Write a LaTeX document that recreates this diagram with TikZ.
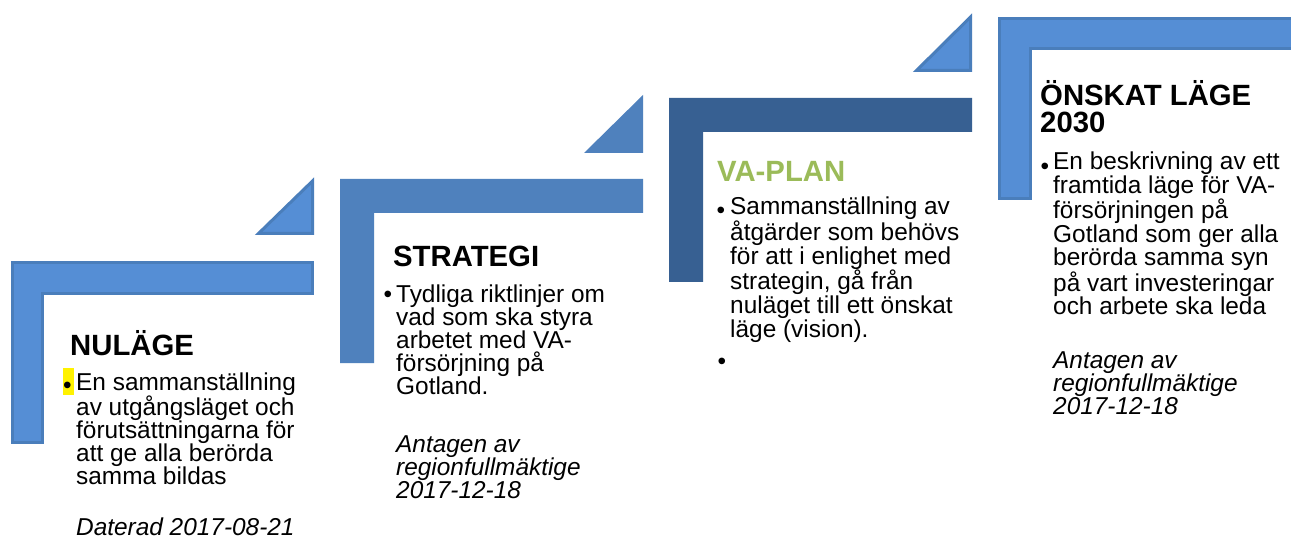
\documentclass[tikz,border=0pt]{standalone}
\usepackage{fontspec}
\setmainfont{Liberation Sans}
\definecolor{barA}{HTML}{558ED5}
\definecolor{edgeA}{HTML}{4A7EBB}
\definecolor{barB}{HTML}{4F81BD}
\definecolor{barC}{HTML}{376092}
\definecolor{titleGreen}{HTML}{9BBB59}
\tikzset{
  lightstep/.style={fill=barA, draw=edgeA, line width=3pt, line join=miter},
  midstep/.style={fill=barB},
  darkstep/.style={fill=barC},
  steptitle/.style={anchor=base west, inner sep=0pt, align=left, font=\bfseries\fontsize{29.3}{27}\selectfont},
  body/.style={anchor=base west, inner sep=0pt, align=left, font=\fontsize{24.4}{#1}\selectfont},
  note/.style={anchor=base west, inner sep=0pt, align=left, font=\itshape\fontsize{24.4}{#1}\selectfont},
  bul/.style={anchor=base west, inner sep=0pt, font=\fontsize{24.4}{23}\selectfont},
}
\begin{document}
\begin{tikzpicture}[x=1pt,y=-1pt]
\clip (0,0) rectangle (1291,540);
\fill[white] (0,0) rectangle (1291,540);

% step 1
\path[lightstep] (12.5,262.5) -- (312.5,262.5) -- (312.5,293.5) -- (42.5,293.5) -- (42.5,442.5) -- (12.5,442.5) -- cycle;
\path[lightstep] (312.5,181) -- (258.5,233.5) -- (312.5,233.5) -- cycle;
% step 2
\path[midstep] (340,179) -- (643,179) -- (643,213) -- (374,213) -- (374,363) -- (340,363) -- cycle;
\path[midstep] (643,95) -- (584,153) -- (643,153) -- cycle;
% step 3
\path[darkstep] (669,98) -- (972,98) -- (972,132) -- (703,132) -- (703,282) -- (669,282) -- cycle;
\path[lightstep] (970.5,17) -- (916.5,70.5) -- (970.5,70.5) -- cycle;
% step 4
\path[lightstep] (999.5,18.5) -- (1300,18.5) -- (1300,48.5) -- (1030.5,48.5) -- (1030.5,198.5) -- (999.5,198.5) -- cycle;

% NULÄGE (base anchor = baseline of last line)
\node[steptitle] (t1) at (70,355) {NULÄGE};
\fill[yellow] (63,368) rectangle (74,395);
\node[bul] (b1) at (63,393) {•};
\node[body=22.8] (x1) at (76,484.2) {En sammanställning\\av utgångsläget och\\förutsättningarna för\\att ge alla berörda\\samma bildas};
\node[note=23] (n1) at (76,535) {Daterad 2017-08-21};

% STRATEGI
\node[steptitle] (t2) at (393,267) {STRATEGI};
\node[bul] (b2) at (383.5,302) {•};
\node[body=23] (x2) at (396,394) {Tydliga riktlinjer om\\vad som ska styra\\arbetet med VA-\\försörjning på\\Gotland.};
\node[note=23] (n2) at (396,498) {Antagen av\\regionfullmäktige\\2017-12-18};

% VA-PLAN
\node[steptitle, text=titleGreen] (t3) at (717,182) {VA-PLAN};
\node[bul] (b3) at (716.5,219) {•};
\node[body=23.6] (x3) at (730,337) {Sammanställning av\\åtgärder som behövs\\för att i enlighet med\\strategin, gå från\\nuläget till ett önskat\\läge (vision).};
\node[bul] (b3b) at (717.5,369) {•};

% ÖNSKAT LÄGE 2030
\node[steptitle] (t4) at (1040,133) {ÖNSKAT LÄGE\\2030};
\node[bul] (b4) at (1040.5,175) {•};
\node[body=23.2] (x4) at (1053,314.2) {En beskrivning av ett\\framtida läge för VA-\\försörjningen på\\Gotland som ger alla\\berörda samma syn\\på vart investeringar\\och arbete ska leda};
\node[note=23] (n4) at (1053,414) {Antagen av\\regionfullmäktige\\2017-12-18};
\end{tikzpicture}
\end{document}
